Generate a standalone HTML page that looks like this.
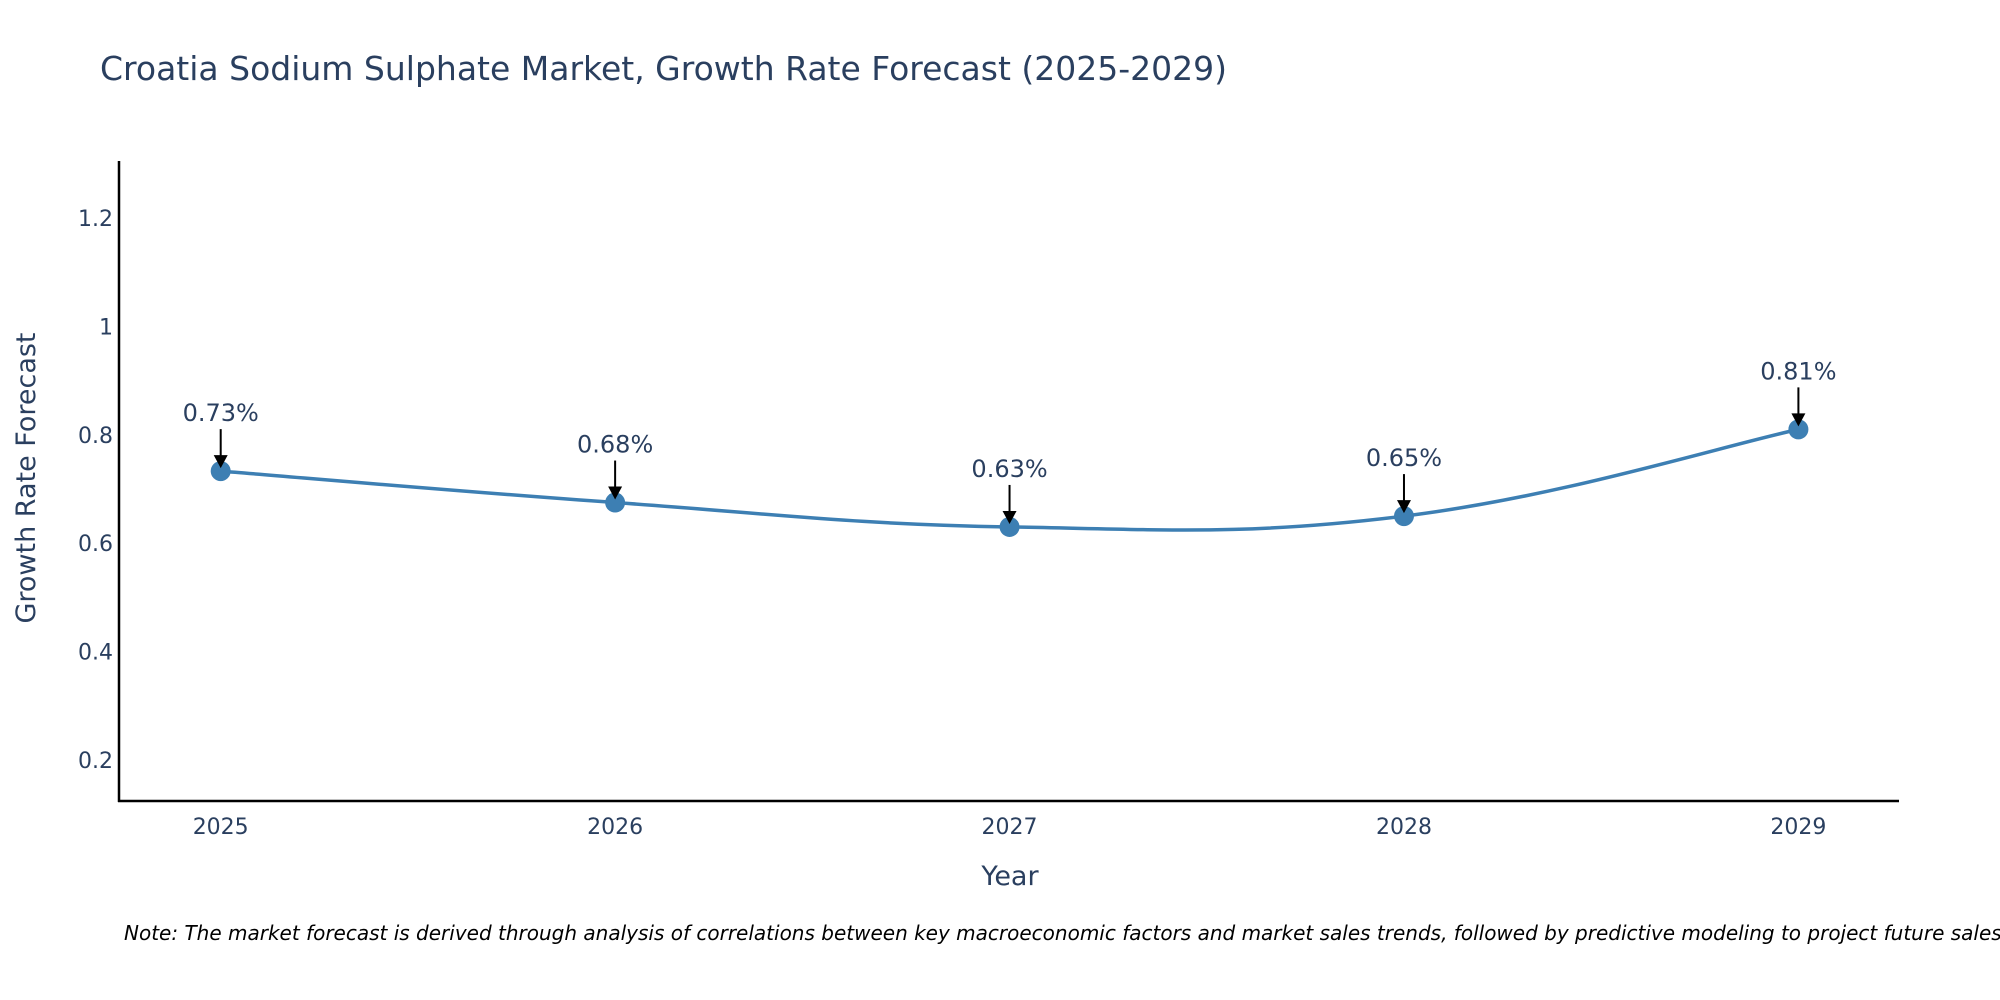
<!DOCTYPE html>
<html><head><meta charset="utf-8"><style>
body{margin:0;background:#fff;}
svg{display:block;font-family:"DejaVu Sans","Liberation Sans",sans-serif;}
</style></head><body>
<svg id="chart" width="2000" height="1000">
<text x="100" y="80" font-size="33" fill="#2a3f5f">Croatia Sodium Sulphate Market, Growth Rate Forecast (2025-2029)</text>
<g id="yticks"></g><g id="xticks"></g>
<path id="line" fill="none" stroke="#3d7fb3" stroke-width="3.5"/>
<g id="points"></g><g id="annos"></g>
<line x1="119" y1="161" x2="119" y2="802" stroke="#000" stroke-width="2.5"/>
<line x1="118" y1="801" x2="1899" y2="801" stroke="#000" stroke-width="2.5"/>
<text x="1010" y="885" font-size="27" fill="#2a3f5f" text-anchor="middle">Year</text>
<text transform="translate(35,478) rotate(-90)" font-size="27" fill="#2a3f5f" text-anchor="middle">Growth Rate Forecast</text>
<text x="124" y="940" font-size="20" font-style="italic" fill="#000">Note: The market forecast is derived through analysis of correlations between key macroeconomic factors and market sales trends, followed by predictive modeling to project future sales.</text>
</svg>
<script>
const years=["2025","2026","2027","2028","2029"];
const values=[0.733,0.675,0.630,0.650,0.810];
const labels=["0.73%","0.68%","0.63%","0.65%","0.81%"];
const yTicks=[0.2,0.4,0.6,0.8,1,1.2];
const NS="http://www.w3.org/2000/svg";
function xs(i){return 220.7+i*(1798.4-220.7)/(years.length-1);}
function ys(v){return 760-(v-0.2)*(760-218)/1.0;}
function mk(t,a,p){const e=document.createElementNS(NS,t);for(const k in a)e.setAttribute(k,a[k]);p.appendChild(e);return e;}
const yt=document.getElementById('yticks');
yTicks.forEach(v=>{const t=mk('text',{x:113,y:ys(v)+8,'font-size':22,fill:'#2a3f5f','text-anchor':'end'},yt);t.textContent=String(v);

});
const xt=document.getElementById('xticks');
years.forEach((y,i)=>{const t=mk('text',{x:xs(i),y:834,'font-size':22,fill:'#2a3f5f','text-anchor':'middle'},xt);t.textContent=y;

});
const P=values.map((v,i)=>[xs(i),ys(v)]);
let d="M"+P[0][0]+","+P[0][1];const s=0.2;
for(let i=0;i<P.length-1;i++){const p0=P[Math.max(0,i-1)],p1=P[i],p2=P[i+1],p3=P[Math.min(P.length-1,i+2)];
d+=` C${p1[0]+(p2[0]-p0[0])*s},${p1[1]+(p2[1]-p0[1])*s} ${p2[0]-(p3[0]-p1[0])*s},${p2[1]-(p3[1]-p1[1])*s} ${p2[0]},${p2[1]}`;}
document.getElementById('line').setAttribute('d',d);
const pg=document.getElementById('points'),ag=document.getElementById('annos');
P.forEach((p,i)=>{const c=mk('circle',{cx:p[0],cy:p[1],r:10,fill:'#3d7fb3'},pg);


const l=mk('line',{x1:p[0],y1:p[1]-42,x2:p[0],y2:p[1]-12,stroke:'#000','stroke-width':2},ag);


const h=mk('polygon',{points:`${p[0]-7},${p[1]-16} ${p[0]+7},${p[1]-16} ${p[0]},${p[1]-3}`,fill:'#000'},ag);


const t=mk('text',{x:p[0],y:p[1]-50,'font-size':24,fill:'#2a3f5f','text-anchor':'middle'},ag);t.textContent=labels[i];

});
</script>
</body></html>
